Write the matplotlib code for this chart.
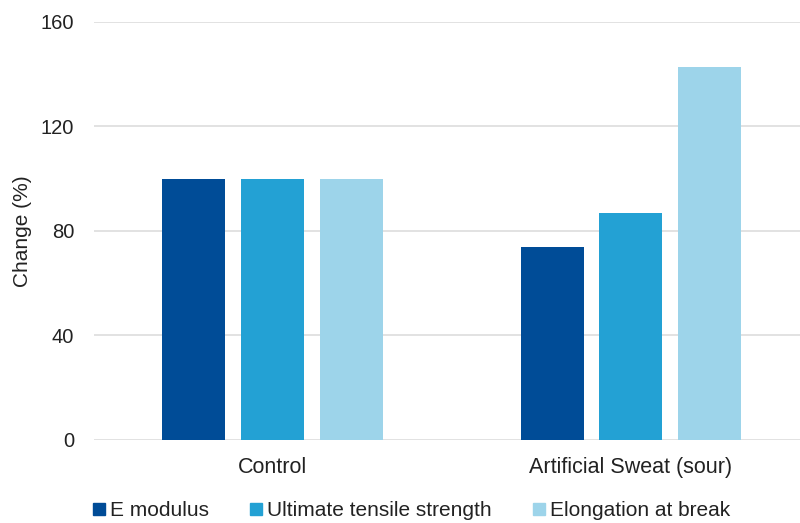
import matplotlib.pyplot as plt
import numpy as np
from matplotlib.lines import Line2D

plt.rcParams['font.family'] = ['Liberation Sans', 'DejaVu Sans']

categories = ['Control', 'Artificial Sweat (sour)']
series = ['E modulus', 'Ultimate tensile strength', 'Elongation at break']
values = {
    'E modulus': [100, 73.8],
    'Ultimate tensile strength': [100, 86.8],
    'Elongation at break': [100, 142.9],
}
colors = ['#004C97', '#23A1D4', '#9DD4EA']
yticks = [0, 40, 80, 120, 160]

fig = plt.figure(figsize=(8, 5.23), dpi=100)
ax = fig.add_axes([0.1169, 0.1587, 0.8956, 0.7993])

x = np.arange(len(categories))
step = 0.22
width = 0.176
for i, (name, col) in enumerate(zip(series, colors)):
    ax.bar(x + (i - 1) * step, values[name], width=width, color=col,
           label=name, zorder=3)

ax.set_xlim(-0.5, 1.5)
ax.set_ylim(0, 160)
ax.set_yticks(yticks)
ax.set_xticks(x)
ax.set_xticklabels(categories)
ax.tick_params(axis='y', length=0, labelsize=14.5, colors='#222222', pad=14)
ax.tick_params(axis='x', length=0, labelsize=15.5, colors='#222222', pad=12)
ax.grid(axis='y', color='#dddddd', linewidth=1.2, zorder=0)
for s in ax.spines.values():
    s.set_visible(False)
ax.set_ylabel('Change (%)', fontsize=15, color='#222222', labelpad=6)

handles = [Line2D([], [], marker='s', linestyle='', markersize=9,
                  markerfacecolor=c, markeredgecolor=c) for c in colors]
fig.legend(handles, series, loc='lower left', bbox_to_anchor=(0.09, -0.03),
           ncol=3, frameon=False, fontsize=15, handletextpad=0.1,
           columnspacing=1.9, handlelength=0.8, labelcolor='#222222')

fig.savefig('out.png', dpi=100)
